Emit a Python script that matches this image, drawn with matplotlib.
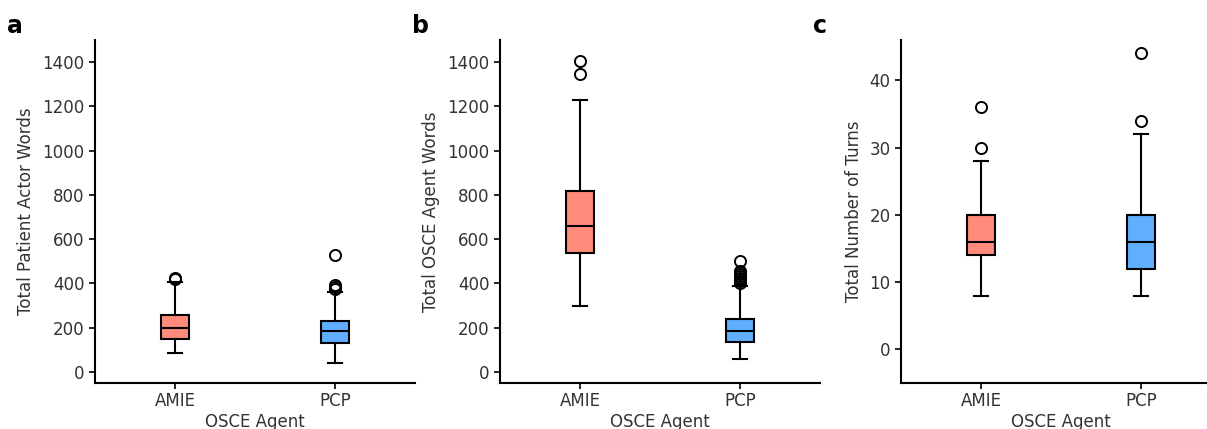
import numpy as np
import matplotlib
matplotlib.use('Agg')
import matplotlib.pyplot as plt

# Grupos e cores
agentes = ['AMIE', 'PCP']
cores = ['#FF8B7B', '#60AFFF']

# a) Total Patient Actor Words  (whislo, q1, med, q3, whishi)
palavras_paciente = [[86, 150, 198, 258, 408], [39, 133, 183, 228, 360]]
palavras_paciente_outliers = [[418, 424], [376, 386, 395, 527]]

# b) Total OSCE Agent Words
palavras_agente = [[296, 536, 658, 816, 1229], [57, 137, 184, 237, 388]]
palavras_agente_outliers = [[1348, 1406],
                            [402, 410, 418, 426, 434, 442, 450, 458, 500]]

# c) Total Number of Turns
turnos = [[8, 14, 16, 20, 28], [8, 12, 16, 20, 32]]
turnos_outliers = [[30, 36], [34, 44]]

paineis = [
    ('a', 'Total Patient Actor Words', palavras_paciente, palavras_paciente_outliers,
     (-50, 1500), [0, 200, 400, 600, 800, 1000, 1200, 1400]),
    ('b', 'Total OSCE Agent Words', palavras_agente, palavras_agente_outliers,
     (-50, 1500), [0, 200, 400, 600, 800, 1000, 1200, 1400]),
    ('c', 'Total Number of Turns', turnos, turnos_outliers,
     (-5, 46), [0, 10, 20, 30, 40]),
]

posicoes_x = [(95, 415), (500, 820), (901, 1221)]
cor_texto = '#333333'

def stats_box(valores, outliers, nome):
    lo, q1, med, q3, hi = valores
    return dict(label=nome, whislo=lo, q1=q1, med=med, q3=q3, whishi=hi,
                fliers=outliers)

fig = plt.figure(figsize=(12.07, 4.29), dpi=100)
W, H = 1207, 429

for (letra, ylabel, dados, outs, ylim, yticks), (x0, x1) in zip(paineis, posicoes_x):
    ax = fig.add_axes([x0 / W, 1 - 383 / H, (x1 - x0) / W, (383 - 40) / H])
    stats = [stats_box(d, o, n) for d, o, n in zip(dados, outs, agentes)]
    bp = ax.bxp(stats, positions=[1, 2], widths=0.18, patch_artist=True,
                boxprops=dict(linewidth=1.5, edgecolor='black'),
                medianprops=dict(color='black', linewidth=1.5),
                whiskerprops=dict(linewidth=1.5, color='black'),
                capprops=dict(linewidth=1.5, color='black'),
                flierprops=dict(marker='o', markerfacecolor='none',
                                markeredgecolor='black', markersize=8,
                                markeredgewidth=1.4))
    for patch, cor in zip(bp['boxes'], cores):
        patch.set_facecolor(cor)

    ax.set_xlim(0.5, 2.5)
    ax.set_ylim(*ylim)
    ax.set_yticks(yticks)
    ax.spines['top'].set_visible(False)
    ax.spines['right'].set_visible(False)
    for s in ['left', 'bottom']:
        ax.spines[s].set_linewidth(1.5)
    ax.tick_params(labelsize=12, labelcolor=cor_texto, width=1.2, length=4)
    ax.tick_params(axis='x', pad=2.5)
    ax.set_ylabel(ylabel, fontsize=12, color=cor_texto, labelpad=5)
    ax.set_xlabel('OSCE Agent', fontsize=12, color=cor_texto, labelpad=2)
    fig.text((x0 - 88) / W, 1 - 33 / H, letra, fontsize=17, fontweight='bold')

fig.savefig('out.png', dpi=100)
